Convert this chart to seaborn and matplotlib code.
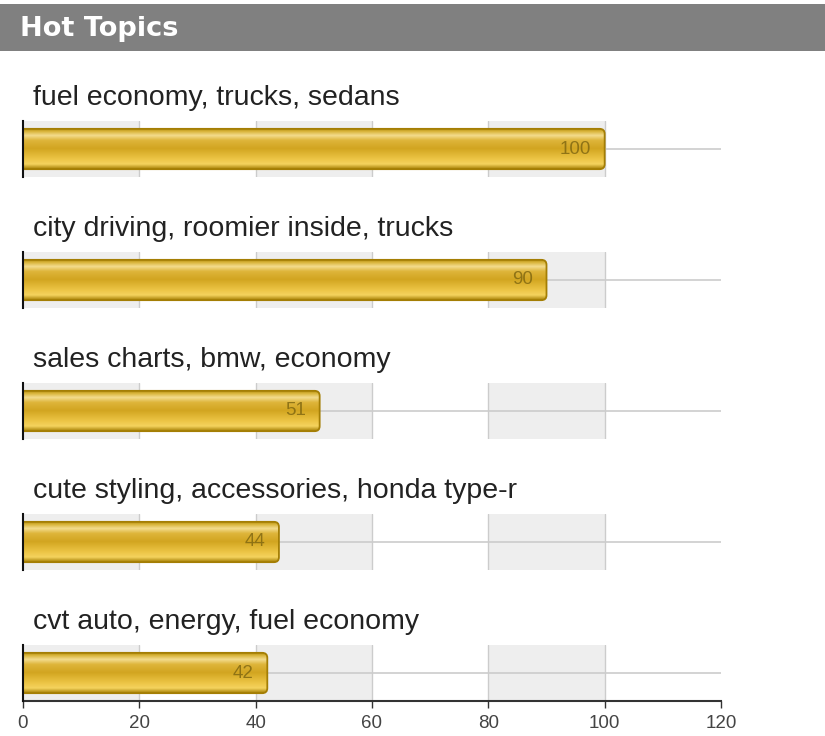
import numpy as np
import pandas as pd
import matplotlib
matplotlib.use("Agg")
import matplotlib.pyplot as plt
import seaborn as sns
from matplotlib.path import Path
from matplotlib.patches import PathPatch, Rectangle
from matplotlib.colors import LinearSegmentedColormap

# Topics and their mention counts
topics = [
    "fuel economy, trucks, sedans",
    "city driving, roomier inside, trucks",
    "sales charts, bmw, economy",
    "cute styling, accessories, honda type-r",
    "cvt auto, energy, fuel economy",
]
counts = [100, 90, 51, 44, 42]
x_ticks = [0, 20, 40, 60, 80, 100, 120]
title = "Hot Topics"

sns.set_theme(style="white")
plt.rcParams["font.family"] = ["Liberation Sans", "DejaVu Sans"]

W, H = 825, 736
fig = plt.figure(figsize=(W / 100, H / 100), dpi=100)
fig.patch.set_facecolor("white")

# header strip
fig.patches.append(Rectangle((0, 1 - 51 / H), 1, 47 / H, transform=fig.transFigure,
                             facecolor="#808080", edgecolor="none", zorder=0))
fig.text(20 / W, 1 - 29 / H, title, color="white", fontsize=19.6, fontweight="bold",
         family="DejaVu Sans", va="center", ha="left")

gold = LinearSegmentedColormap.from_list("gold", [
    (0.00, "#a98406"),
    (0.08, "#d9b43a"),
    (0.18, "#f3dc8e"),
    (0.30, "#deb53a"),
    (0.50, "#d2a520"),
    (0.75, "#ecc445"),
    (0.88, "#f5d35e"),
    (1.00, "#a57f05"),
])
grad = np.linspace(0, 1, 256).reshape(-1, 1)

left_px, right_px = 23, 721
band_h = 56
px_per_unit = (right_px - left_px) / 120.0

for i, (topic, n) in enumerate(zip(topics, counts)):
    top_px = 121 + 131 * i
    ax = fig.add_axes([left_px / W, 1 - (top_px + band_h) / H,
                       (right_px - left_px) / W, band_h / H])
    df = pd.DataFrame({"topic": [topic], "count": [n]})
    sns.barplot(data=df, x="count", y="topic", orient="h", width=0.72,
                color="#d4a820", ax=ax, zorder=3)
    bar = ax.patches[0]

    ax.set_xlim(0, 120)
    ax.set_ylim(0.5, -0.5)

    # alternating background columns and grid
    for a in range(0, 120, 40):
        ax.axvspan(a, a + 20, color="#eeeeee", zorder=0, lw=0)
    for g in x_ticks[1:-1]:
        ax.axvline(g, color="#cccccc", lw=1, zorder=1)
    ax.axhline(0, color="#cccccc", lw=1.2, zorder=1)

    # restyle the bar: gold gradient, rounded right end
    x0, y0 = bar.get_x(), bar.get_y()
    x1, y1 = x0 + bar.get_width(), y0 + bar.get_height()
    bar.set_visible(False)
    rx = 5 / px_per_unit
    ry = 5 / band_h
    verts = [(x0, y0), (x1 - rx, y0), (x1, y0), (x1, y0 + ry),
             (x1, y1 - ry), (x1, y1), (x1 - rx, y1), (x0, y1), (x0, y0)]
    codes = [Path.MOVETO, Path.LINETO, Path.CURVE3, Path.CURVE3,
             Path.LINETO, Path.CURVE3, Path.CURVE3, Path.LINETO, Path.CLOSEPOLY]
    shape = PathPatch(Path(verts, codes), facecolor="none", edgecolor="#a47e04",
                      lw=1.3, zorder=4, transform=ax.transData)
    ax.add_patch(shape)
    img = ax.imshow(grad, cmap=gold, extent=[x0, x1, y1, y0], aspect="auto",
                    origin="upper", zorder=3, interpolation="bilinear")
    img.set_clip_path(shape)
    ax.set_xlim(0, 120)
    ax.set_ylim(0.5, -0.5)

    ax.annotate(str(n), xy=(n, 0), xytext=(-10, 0), textcoords="offset points",
                ha="right", va="center", fontsize=13.5, color="#7d6510",
                alpha=0.8, zorder=5)

    ax.text((33 - left_px) / (right_px - left_px), 1 + 23 / band_h, topic,
            transform=ax.transAxes, ha="left", va="center", fontsize=20.5,
            color="#222222")

    ax.set_ylabel("")
    ax.set_xlabel("")
    ax.set_yticks([])
    for s in ("top", "right"):
        ax.spines[s].set_visible(False)
    ax.spines["left"].set_color("#111111")
    ax.spines["left"].set_linewidth(1.5)
    ax.spines["left"].set_zorder(6)
    ax.set_facecolor("white")

    if i == len(topics) - 1:
        ax.spines["bottom"].set_color("#333333")
        ax.spines["bottom"].set_linewidth(1.5)
        ax.set_xticks(x_ticks)
        ax.set_xticklabels([str(t) for t in x_ticks], fontsize=13.5, color="#444444")
        ax.tick_params(axis="x", bottom=True, length=5, width=1, color="#333333", pad=5)
    else:
        ax.spines["bottom"].set_visible(False)
        ax.set_xticks([])

fig.savefig("out.png", dpi=100, facecolor="white")
